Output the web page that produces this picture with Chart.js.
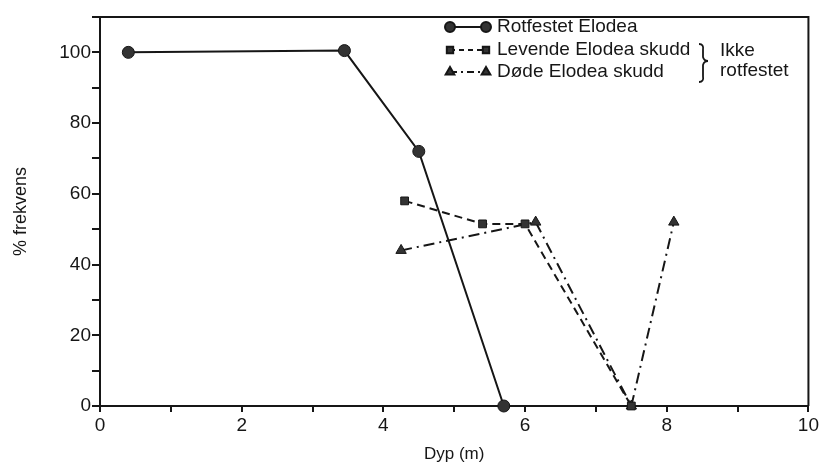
<!DOCTYPE html>
<html>
<head>
<meta charset="utf-8">
<script src="https://cdn.jsdelivr.net/npm/chart.js@4/dist/chart.umd.min.js"></script>
<style>
  html, body { margin: 0; padding: 0; background: #fff; }
  #wrap { width: 821px; height: 465px; }
</style>
</head>
<body>
<div id="wrap"><canvas id="chart" width="821" height="465"></canvas></div>
<script>
// depth (m) and frequency (%) per series
const rotfestetX = [0.4, 3.45, 4.5, 5.7];
const rotfestetY = [100, 100.5, 72, 0];
const levendeX = [4.3, 5.4, 6.0, 7.5];
const levendeY = [58, 51.5, 51.5, 0];
const dodeX = [4.25, 6.15, 7.5, 8.1];
const dodeY = [44, 52, 0, 52];

const seriesNames = ['Rotfestet Elodea', 'Levende Elodea skudd', 'Døde Elodea skudd'];
const bracketLabel = ['Ikke', 'rotfestet'];
const xTitle = 'Dyp (m)';
const yTitle = '% frekvens';

const ink = '#161616';
const font = 'Liberation Sans, Arial, sans-serif';

function toPoints(xs, ys) {
  return xs.map((x, i) => ({ x: x, y: ys[i] }));
}

const styles = [
  { pointStyle: 'circle', radius: 6, dash: [] },
  { pointStyle: 'rect', radius: 5.5, dash: [8, 5] },
  { pointStyle: 'triangle', radius: 6, dash: [11, 5, 2, 5] }
];

// box around the plot + hand-drawn legend with the bracket
const framePlugin = {
  id: 'frame',
  afterDraw(chart) {
    const ctx = chart.ctx;
    const a = chart.chartArea;
    ctx.save();
    ctx.strokeStyle = ink;
    ctx.lineWidth = 2;
    ctx.beginPath();
    ctx.moveTo(a.left, a.top);
    ctx.lineTo(a.right, a.top);
    ctx.lineTo(a.right, a.bottom);
    ctx.stroke();

    const rows = [27, 50, 72];
    const x0 = 450, x1 = 486;
    ctx.font = '19px ' + font;
    ctx.textBaseline = 'middle';
    rows.forEach((y, i) => {
      const s = styles[i];
      ctx.strokeStyle = ink;
      ctx.fillStyle = '#333';
      ctx.lineWidth = 2;
      ctx.setLineDash(s.dash.length ? [5, 4] : []);
      if (i === 2) ctx.setLineDash([7, 4, 2, 4]);
      ctx.beginPath();
      ctx.moveTo(x0, y);
      ctx.lineTo(x1, y);
      ctx.stroke();
      ctx.setLineDash([]);
      [x0, x1].forEach(px => {
        Chart.helpers.drawPoint(ctx, { pointStyle: s.pointStyle, radius: s.radius - 1, rotation: 0, borderWidth: 1 }, px, y);
      });
      ctx.fillStyle = ink;
      ctx.fillText(seriesNames[i], 497, y);
    });

    // curly bracket joining the two unrooted series
    ctx.lineWidth = 1.8;
    ctx.beginPath();
    const bx = 703, top = 44, mid = 61, bot = 82;
    ctx.moveTo(bx - 4, top);
    ctx.quadraticCurveTo(bx + 1, top, bx, top + 6);
    ctx.lineTo(bx, mid - 4);
    ctx.quadraticCurveTo(bx + 1, mid, bx + 5, mid);
    ctx.quadraticCurveTo(bx + 1, mid, bx, mid + 4);
    ctx.lineTo(bx, bot - 6);
    ctx.quadraticCurveTo(bx + 1, bot, bx - 4, bot);
    ctx.stroke();

    ctx.fillText(bracketLabel[0], 720, 51);
    ctx.fillText(bracketLabel[1], 720, 71);
    ctx.restore();
  }
};

const datasets = [
  { label: seriesNames[0], data: toPoints(rotfestetX, rotfestetY) },
  { label: seriesNames[1], data: toPoints(levendeX, levendeY) },
  { label: seriesNames[2], data: toPoints(dodeX, dodeY) }
].map((d, i) => Object.assign(d, {
  showLine: true,
  clip: false,
  borderColor: ink,
  borderWidth: 2,
  borderDash: styles[i].dash,
  backgroundColor: '#333',
  pointStyle: styles[i].pointStyle,
  pointRadius: styles[i].radius,
  pointBorderColor: ink,
  pointBorderWidth: 1,
  tension: 0
}));

new Chart(document.getElementById('chart'), {
  type: 'scatter',
  data: { datasets: datasets },
  options: {
    responsive: false,
    animation: false,
    layout: { padding: { top: 17, right: 12, left: 0, bottom: 0 } },
    plugins: {
      legend: { display: false },
      tooltip: { enabled: false }
    },
    scales: {
      x: {
        type: 'linear',
        min: 0,
        max: 10,
        afterFit(scale) { scale.height = 59; },
        border: { color: ink, width: 2 },
        grid: { drawOnChartArea: false, drawTicks: true, tickLength: 6, color: ink, lineWidth: 2 },
        ticks: {
          stepSize: 1,
          padding: 2,
          color: ink,
          font: { family: font, size: 19 },
          maxRotation: 0,
          callback: v => (v % 2 === 0 ? String(v) : '')
        },
        title: {
          display: true,
          text: xTitle,
          color: ink,
          font: { family: font, size: 17 },
          padding: { top: 2, bottom: 0 }
        }
      },
      y: {
        type: 'linear',
        min: 0,
        max: 110,
        afterFit(scale) { scale.width = 100; },
        border: { color: ink, width: 2 },
        grid: { drawOnChartArea: false, drawTicks: true, tickLength: 8, color: ink, lineWidth: 2 },
        ticks: {
          stepSize: 10,
          padding: 1,
          color: ink,
          font: { family: font, size: 19 },
          callback: v => (v % 20 === 0 && v <= 100 ? String(v) : '')
        },
        title: {
          display: true,
          text: yTitle,
          color: ink,
          font: { family: font, size: 18 },
          padding: { top: 10, bottom: 0 }
        }
      }
    }
  },
  plugins: [framePlugin]
});
</script>
</body>
</html>
